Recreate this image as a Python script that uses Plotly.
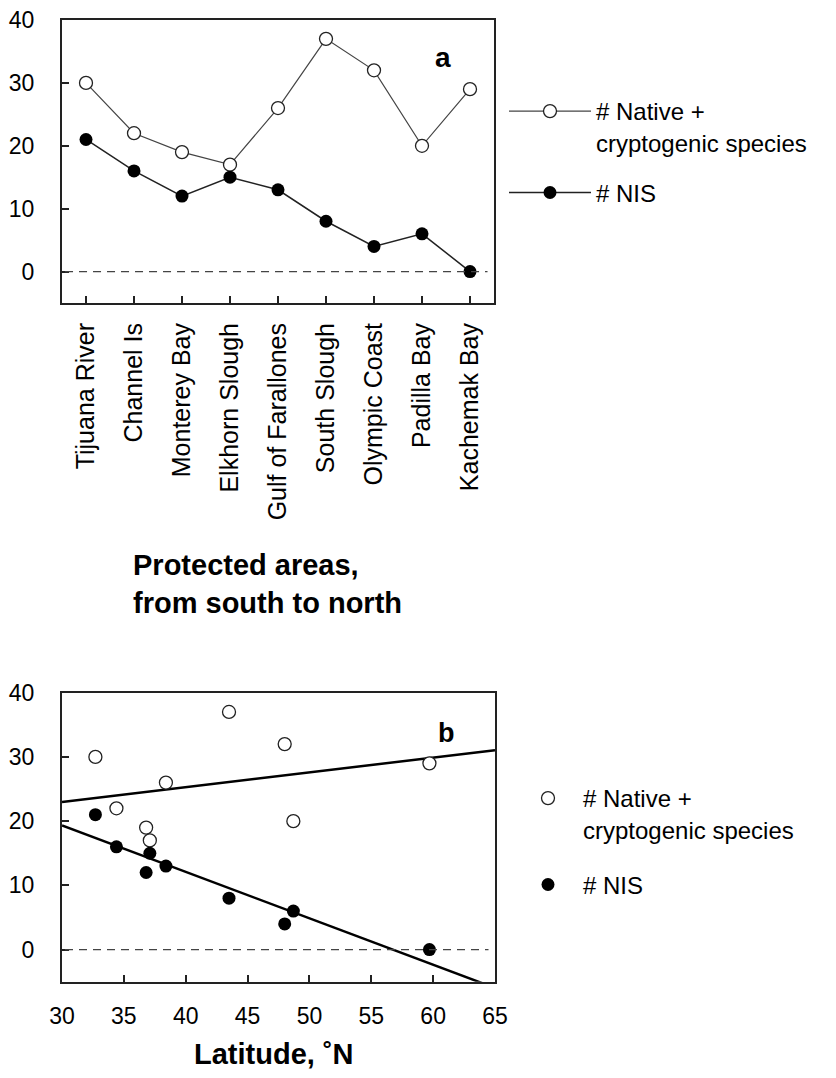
import numpy as np
import plotly.graph_objects as go

# ---------------- data ----------------
sites = ["Tijuana River", "Channel Is", "Monterey Bay", "Elkhorn Slough",
         "Gulf of Farallones", "South Slough", "Olympic Coast", "Padilla Bay",
         "Kachemak Bay"]
latitude = [32.7, 34.4, 36.8, 37.1, 38.4, 43.5, 48.0, 48.7, 59.7]
native = [30, 22, 19, 17, 26, 37, 32, 20, 29]
nis = [21, 16, 12, 15, 13, 8, 4, 6, 0]
y_ticks = [0, 10, 20, 30, 40]
lat_ticks = [30, 35, 40, 45, 50, 55, 60, 65]
y_range = [-5, 40]
lat_range = [30, 65]

# page body has an 8px margin; size the figure so it fits the window
OFF = 8
W, H = 836 - 2 * OFF, 1078 - 2 * OFF
FONT = "Liberation Sans, Arial, sans-serif"


def px(p):
    return (p - OFF) / W


def py(p):
    return 1 - (p - OFF) / H


fig = go.Figure()

# ---------------- panel a ----------------
fig.add_trace(go.Scatter(
    x=sites, y=native, mode="lines+markers",
    name="# Native +<br>cryptogenic species",
    line=dict(color="#444444", width=1.2),
    marker=dict(symbol="circle", size=13, color="white",
                line=dict(color="#222222", width=1.3)),
    xaxis="x", yaxis="y", legend="legend", legendgroup="a1"))
fig.add_trace(go.Scatter(
    x=sites, y=nis, mode="lines+markers", name="# NIS",
    line=dict(color="#222222", width=1.5),
    marker=dict(symbol="circle", size=13, color="black"),
    xaxis="x", yaxis="y", legend="legend", legendgroup="a2"))

# ---------------- panel b ----------------
fit_x = np.array(lat_range, dtype=float)
nat_coef = np.polyfit(latitude, native, 1)
nis_coef = np.polyfit(latitude, nis, 1)

fig.add_trace(go.Scatter(
    x=fit_x, y=np.polyval(nat_coef, fit_x), mode="lines",
    line=dict(color="black", width=2.5), showlegend=False,
    xaxis="x2", yaxis="y2"))
fig.add_trace(go.Scatter(
    x=fit_x, y=np.polyval(nis_coef, fit_x), mode="lines",
    line=dict(color="black", width=2.5), showlegend=False,
    xaxis="x2", yaxis="y2"))
fig.add_trace(go.Scatter(
    x=latitude, y=native, mode="markers",
    name="# Native +<br>cryptogenic species",
    marker=dict(symbol="circle", size=13, color="white",
                line=dict(color="#222222", width=1.3)),
    xaxis="x2", yaxis="y2", legend="legend2", legendgroup="b1"))
fig.add_trace(go.Scatter(
    x=latitude, y=nis, mode="markers", name="# NIS",
    marker=dict(symbol="circle", size=13, color="black"),
    xaxis="x2", yaxis="y2", legend="legend2", legendgroup="b2"))

axis_common = dict(showline=True, linewidth=2, linecolor="#222222",
                   mirror=True, showgrid=False, zeroline=False,
                   ticks="inside", ticklen=7, tickwidth=1.5,
                   tickcolor="#222222", fixedrange=True, automargin=False,
                   ticklabeloverflow="allow")

fig.update_layout(
    width=W, height=H,
    margin=dict(l=0, r=0, t=0, b=0, autoexpand=False),
    paper_bgcolor="white", plot_bgcolor="white",
    font=dict(family=FONT, color="black"),
    xaxis=dict(domain=[px(62), px(494)], anchor="y", type="category",
               range=[-0.5, 8.5], tickangle=-90,
               tickfont=dict(size=25), ticklabelstandoff=8, **axis_common),
    yaxis=dict(domain=[py(303), py(20)], anchor="x", range=y_range,
               tickvals=y_ticks, tickfont=dict(size=23),
               ticklabelstandoff=21, **axis_common),
    xaxis2=dict(domain=[px(62), px(495)], anchor="y2", range=lat_range,
                tickvals=lat_ticks, tickfont=dict(size=23),
                ticklabelstandoff=13, **axis_common),
    yaxis2=dict(domain=[py(981.7), py(692.7)], anchor="x2", range=y_range,
                tickvals=y_ticks, tickfont=dict(size=23),
                ticklabelstandoff=21, **axis_common),
    legend=dict(x=px(504), y=py(89), xanchor="left", yanchor="top",
                font=dict(size=24), bgcolor="rgba(0,0,0,0)",
                itemwidth=82, valign="top", tracegroupgap=16,
                itemclick=False, itemdoubleclick=False),
    legend2=dict(x=px(513), y=py(776), xanchor="left", yanchor="top",
                 font=dict(size=24), bgcolor="rgba(0,0,0,0)",
                 itemwidth=60, valign="top", tracegroupgap=21,
                 itemclick=False, itemdoubleclick=False),
    shapes=[
        dict(type="line", xref="x domain", yref="y", x0=0.007, x1=0.985,
             y0=0, y1=0, line=dict(color="#444444", width=1.2, dash="8px,6px")),
        dict(type="line", xref="x2 domain", yref="y2", x0=0.007, x1=0.985,
             y0=0, y1=0, line=dict(color="#444444", width=1.2, dash="8px,6px")),
    ],
    annotations=[
        dict(text="<b>a</b>", xref="paper", yref="paper", x=px(443), y=py(57),
             xanchor="center", yanchor="middle", showarrow=False,
             font=dict(size=28)),
        dict(text="<b>b</b>", xref="paper", yref="paper", x=px(446), y=py(733),
             xanchor="center", yanchor="middle", showarrow=False,
             font=dict(size=27)),
        dict(text="<b>Protected areas,<br>from south to north</b>",
             xref="paper", yref="paper", x=px(131), y=py(584),
             xanchor="left", yanchor="middle", align="left", showarrow=False,
             font=dict(size=29)),
        dict(text="<b>Latitude, ˚N</b>", xref="paper", yref="paper",
             x=px(274), y=py(1054), xanchor="center", yanchor="middle",
             showarrow=False, font=dict(size=29)),
    ],
)

fig.write_html("out.html")
